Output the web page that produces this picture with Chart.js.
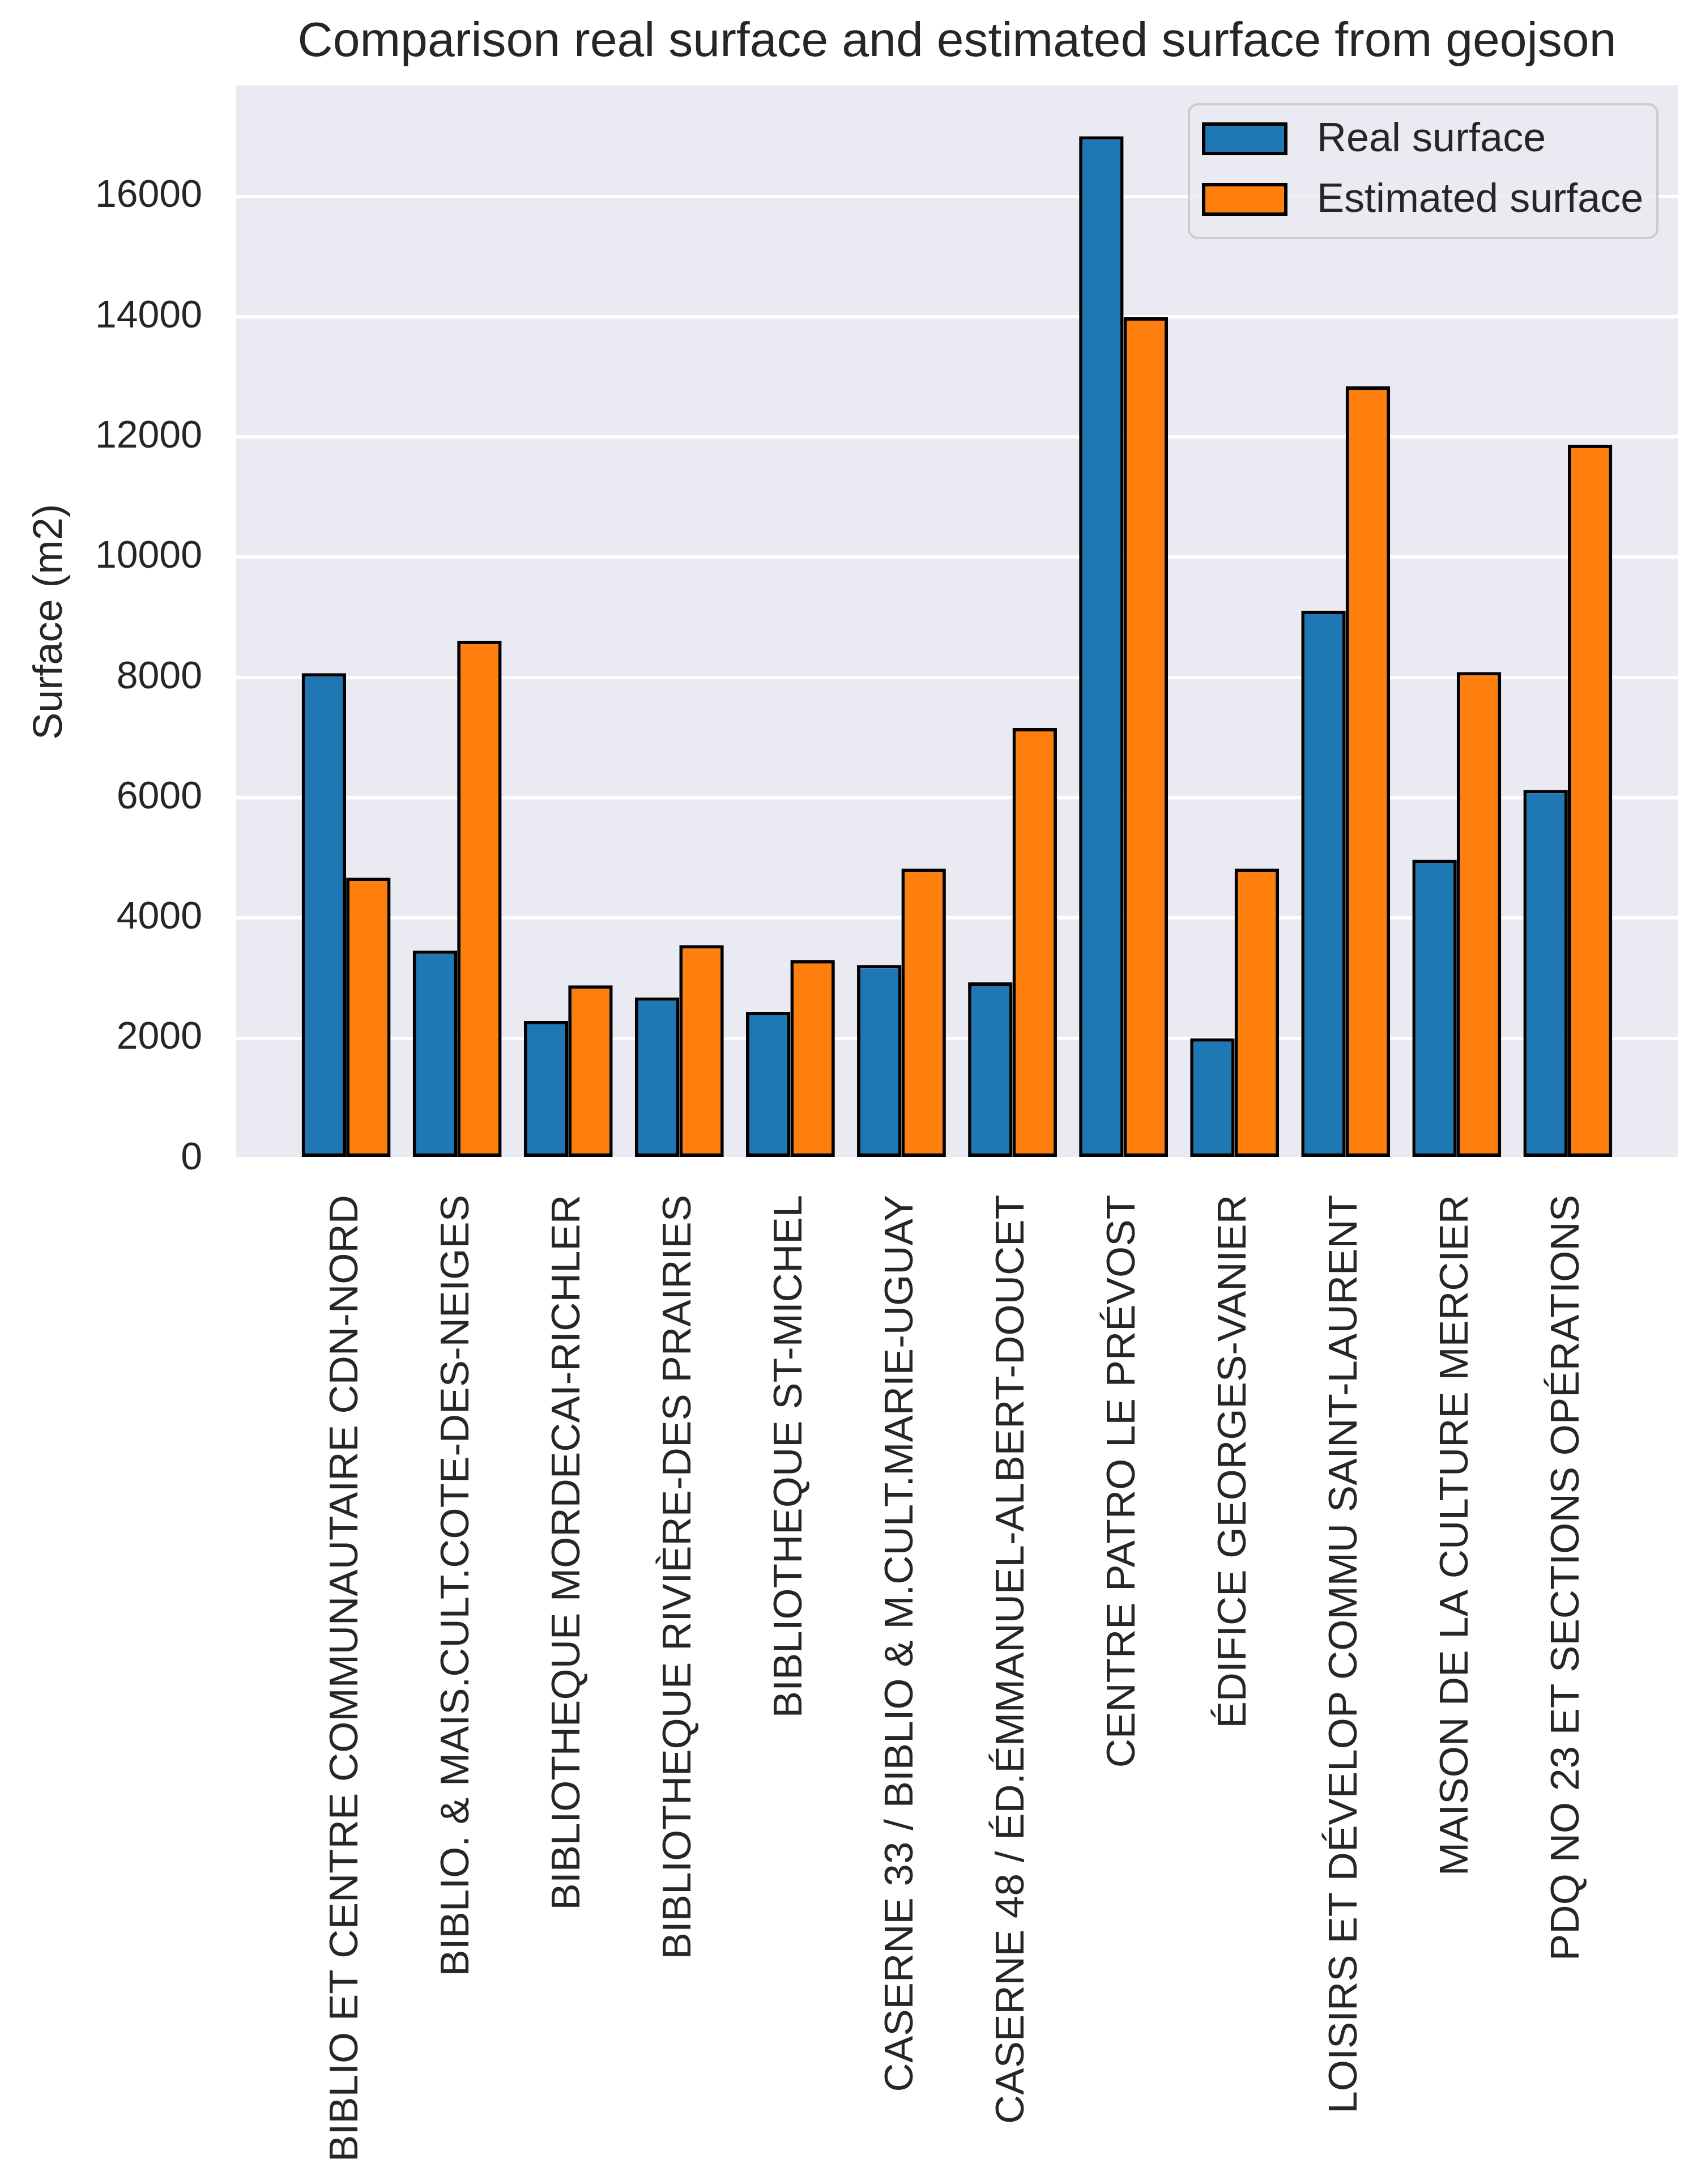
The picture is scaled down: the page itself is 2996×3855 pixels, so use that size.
<!DOCTYPE html>
<html>
<head>
	<title>Comparison real surface and estimated surface</title>
	<meta charset="utf-8">
	<script src="https://cdn.jsdelivr.net/npm/chart.js@4.4.1/dist/chart.umd.min.js"></script>
<style type="text/css">
	body{
		margin: 0;
		background-color: #ffffff;
	}
	#wrap{
		width: 2996px;
		height: 3855px;
	}
</style>
</head>
<body>

<div id="wrap">
	<canvas id="surf" width="2996" height="3855"></canvas>
</div>

<script type="text/javascript">

// buildings (x axis)
var labels = [
	"BIBLIO ET CENTRE COMMUNAUTAIRE CDN-NORD",
	"BIBLIO. & MAIS.CULT.COTE-DES-NEIGES",
	"BIBLIOTHEQUE MORDECAI-RICHLER",
	"BIBLIOTHEQUE RIVIÈRE-DES PRAIRIES",
	"BIBLIOTHEQUE ST-MICHEL",
	"CASERNE 33 / BIBLIO & M.CULT.MARIE-UGUAY",
	"CASERNE 48 / ÉD.ÉMMANUEL-ALBERT-DOUCET",
	"CENTRE PATRO LE PRÉVOST",
	"ÉDIFICE GEORGES-VANIER",
	"LOISIRS ET DÉVELOP COMMU SAINT-LAURENT",
	"MAISON DE LA CULTURE MERCIER",
	"PDQ NO 23 ET SECTIONS OPÉRATIONS"
];

var realSurface = [8070, 3460, 2290, 2680, 2440, 3220, 2930, 17000, 2000, 9110, 4970, 6130];
var estimatedSurface = [4670, 8610, 2880, 3550, 3300, 4820, 7160, 13990, 4820, 12840, 8090, 11870];

var yTicks = [0, 2000, 4000, 6000, 8000, 10000, 12000, 14000, 16000];

var seriesNames = ["Real surface", "Estimated surface"];
var titleText = "Comparison real surface and estimated surface from geojson";
var yTitle = "Surface (m2)";

var txt = "#262626";
var fam = "'Liberation Sans', Arial, sans-serif";
Chart.defaults.font.family = fam;
Chart.defaults.color = txt;

function toPoints(arr){
	return arr.map(function(v, i){ return {x: i, y: v}; });
}

// grey plot background
var bgPlugin = {
	id: "bg",
	beforeDraw: function(chart){
		var a = chart.chartArea, c = chart.ctx;
		c.save();
		c.fillStyle = "#eaeaf2";
		c.fillRect(a.left, a.top, a.right - a.left, a.bottom - a.top);
		c.restore();
	}
};

// legend inside the plot, top right
var boxLegend = {
	id: "boxLegend",
	afterDraw: function(chart){
		var c = chart.ctx;
		var x = 2099, y = 184, w = 827, h = 236, r = 16;
		c.save();
		c.beginPath();
		c.roundRect(x, y, w, h, r);
		c.fillStyle = "rgba(234,234,242,0.8)";
		c.fill();
		c.lineWidth = 4;
		c.strokeStyle = "#cccccc";
		c.stroke();

		var rows = [245, 352];
		chart.data.datasets.forEach(function(ds, i){
			c.fillStyle = ds.backgroundColor;
			c.fillRect(2125, rows[i] - 26, 145, 52);
			c.lineWidth = 6;
			c.strokeStyle = "#000000";
			c.strokeRect(2125, rows[i] - 26, 145, 52);
			c.fillStyle = txt;
			c.font = "72px " + fam;
			c.textBaseline = "middle";
			c.textAlign = "left";
			c.fillText(ds.label, 2325, rows[i] + 2);
		});
		c.restore();
	}
};

var ctx = document.getElementById("surf").getContext("2d");
window.surf = new Chart(ctx, {
	type: "bar",
	data: {
		datasets: [
			{
				label: seriesNames[0],
				data: toPoints(realSurface),
				backgroundColor: "#1f77b4",
				borderColor: "#000000",
				borderWidth: 6,
				borderSkipped: false,
				categoryPercentage: 0.8,
				barPercentage: 1.0
			},
			{
				label: seriesNames[1],
				data: toPoints(estimatedSurface),
				backgroundColor: "#ff7f0e",
				borderColor: "#000000",
				borderWidth: 6,
				borderSkipped: false,
				categoryPercentage: 0.8,
				barPercentage: 1.0
			}
		]
	},
	options: {
		responsive: false,
		animation: false,
		devicePixelRatio: 1,
		layout: {padding: {left: 0, right: 34, top: 0, bottom: 0}},
		plugins: {
			legend: {display: false},
			tooltip: {enabled: false},
			title: {
				display: true,
				text: titleText,
				fullSize: false,
				color: txt,
				font: {size: 86, weight: "normal"},
				padding: {top: 24, bottom: 23}
			}
		},
		scales: {
			x: {
				type: "linear",
				offset: false,
				min: -0.99,
				max: 11.99,
				grid: {display: false},
				border: {display: false},
				afterBuildTicks: function(s){
					s.ticks = labels.map(function(l, i){ return {value: i}; });
				},
				afterFit: function(s){ s.height = 3855 - 2045; },
				ticks: {
					autoSkip: false,
					minRotation: 90,
					maxRotation: 90,
					padding: 56,
					color: txt,
					font: {size: 71},
					callback: function(v){ return labels[v]; }
				}
			},
			y: {
				min: 0,
				max: 17850,
				afterBuildTicks: function(s){
					s.ticks = yTicks.map(function(v){ return {value: v}; });
				},
				afterFit: function(s){ s.width = 417; },
				grid: {color: "#ffffff", lineWidth: 6, drawTicks: false},
				border: {display: false},
				ticks: {
					padding: 60,
					color: txt,
					font: {size: 68},
					callback: function(v){ return String(v); }
				},
				title: {
					display: true,
					text: yTitle,
					color: txt,
					font: {size: 72},
					padding: {top: 46, bottom: 0}
				}
			}
		}
	},
	plugins: [bgPlugin, boxLegend]
});

</script>
</body>
</html>
